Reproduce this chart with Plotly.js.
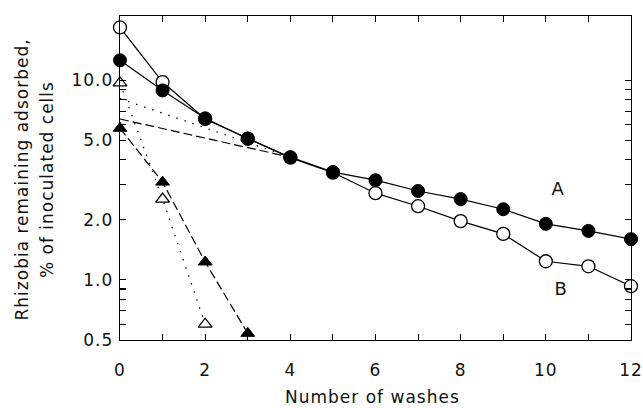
<!DOCTYPE html>
<html>
<head>
<meta charset="utf-8">
<script src="https://cdn.plot.ly/plotly-3.0.1.min.js"></script>
<style>
html,body{margin:0;padding:0;background:#fff;}
#chart{width:643px;height:408px;}
.main-svg text{letter-spacing:1px;}
</style>
</head>
<body>
<div id="chart"></div>
<script>
// Number of washes
var washes = [0,1,2,3,4,5,6,7,8,9,10,11,12];
// Curve A (filled circles)
var curveA = [12.6, 8.9, 6.45, 5.1, 4.12, 3.47, 3.16, 2.79, 2.54, 2.26, 1.91, 1.76, 1.60];
// Curve B (open circles)
var curveB = [18.4, 9.8, 6.4, 5.1, 4.1, 3.45, 2.72, 2.34, 1.97, 1.70, 1.24, 1.17, 0.93];
// Extrapolated terminal lines back to 0 washes
var extrapX = [0, 4];
var extrapA = [6.4, 4.12];
var extrapB = [8.1, 4.12];
// Residual (fast) components
var residX_A = [0,1,2,3];
var residA = [5.75, 3.09, 1.23, 0.54];
var residX_B = [0,1,2];
var residB = [9.7, 2.54, 0.6];
// Axis ticks
var yTickVals = [0.5,0.6,0.7,0.8,0.9,1,2,3,4,5,6,7,8,9,10];
var yTickText = ['0.5','','','','','1.0','2.0','','','5.0','','','','','10.0'];
var xTickVals = [0,1,2,3,4,5,6,7,8,9,10,11,12];
var xTickText = ['0','','2','','4','','6','','8','','10','','12'];
var yTitle1 = 'Rhizobia remaining adsorbed,';
var yTitle2 = '% of inoculated cells';
var xTitle = 'Number of washes';

var FONT = 'DejaVu Sans, sans-serif';
var traces = [
  {x: extrapX, y: extrapB, mode:'lines', line:{color:'#000', width:1.2, dash:'1.5px,7px'}, cliponaxis:false},
  {x: extrapX, y: extrapA, mode:'lines', line:{color:'#000', width:1.2, dash:'9px,4px'}, cliponaxis:false},
  {x: residX_B, y: residB, mode:'lines+markers', line:{color:'#000', width:1.2, dash:'1.5px,7px'},
   marker:{symbol:'triangle-up', size:12, color:'#fff', line:{color:'#000', width:1.3}}, cliponaxis:false},
  {x: residX_A, y: residA, mode:'lines+markers', line:{color:'#000', width:1.2, dash:'9px,4px'},
   marker:{symbol:'triangle-up', size:12, color:'#000', line:{color:'#000', width:1}}, cliponaxis:false},
  {x: washes, y: curveB, mode:'lines+markers', line:{color:'#000', width:1.2},
   marker:{symbol:'circle', size:13, color:'#fff', line:{color:'#000', width:1.3}}, cliponaxis:false},
  {x: washes, y: curveA, mode:'lines+markers', line:{color:'#000', width:1.2},
   marker:{symbol:'circle', size:13, color:'#000', line:{color:'#000', width:1}}, cliponaxis:false}
];

var layout = {
  width:643, height:408,
  margin:{l:120, r:12, t:16, b:68},
  paper_bgcolor:'#fff', plot_bgcolor:'#fff',
  showlegend:false,
  font:{family:FONT, size:17, color:'#111'},
  xaxis:{
    range:[0,12], tickvals:xTickVals, ticktext:xTickText,
    ticks:'inside', ticklen:6, tickwidth:1.1, tickcolor:'#000',
    showline:true, linecolor:'#000', linewidth:1.3, mirror:'ticks',
    showgrid:false, zeroline:false, ticklabelstandoff:14,
    tickfont:{family:FONT, size:17, color:'#111'}
  },
  yaxis:{
    type:'log', range:[Math.log10(0.5), Math.log10(21)],
    tickvals:yTickVals, ticktext:yTickText,
    ticks:'inside', ticklen:6, tickwidth:1.1, tickcolor:'#000',
    showline:true, linecolor:'#000', linewidth:1.3, mirror:'ticks',
    showgrid:false, zeroline:false, ticklabelstandoff:2,
    tickfont:{family:FONT, size:17, color:'#111'}
  },
  annotations:[
    {text:xTitle, xref:'paper', yref:'paper', x:0.495, y:-0.176,
     xanchor:'center', yanchor:'middle', showarrow:false, font:{family:FONT, size:17, color:'#111'}},
    {text:yTitle1, xref:'paper', yref:'paper',
     x:-0.192, y:0.495, xanchor:'center', yanchor:'middle', textangle:-90, showarrow:false,
     font:{family:FONT, size:17, color:'#111'}},
    {text:yTitle2, xref:'paper', yref:'paper',
     x:-0.143, y:0.495, xanchor:'center', yanchor:'middle', textangle:-90, showarrow:false,
     font:{family:FONT, size:17, color:'#111'}},
    {text:'A', xref:'x', yref:'y', x:10.3, y:Math.log10(2.88), showarrow:false,
     font:{family:FONT, size:18, color:'#111'}},
    {text:'B', xref:'x', yref:'y', x:10.35, y:Math.log10(0.91), showarrow:false,
     font:{family:FONT, size:18, color:'#111'}}
  ]
};

Plotly.newPlot('chart', traces, layout, {displayModeBar:false, staticPlot:true});
</script>
</body>
</html>
